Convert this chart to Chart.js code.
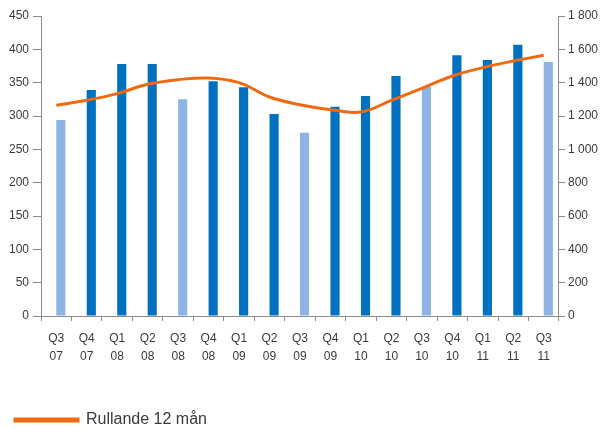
<!DOCTYPE html>
<html>
<head>
<meta charset="utf-8">
<script src="https://cdn.jsdelivr.net/npm/chart.js@4"></script>
<style>
  body { margin: 0; background: #fff; }
</style>
</head>
<body>
<canvas id="chart" width="601" height="428"></canvas>
<script>
const quarters = ["Q3 07", "Q4 07", "Q1 08", "Q2 08", "Q3 08", "Q4 08", "Q1 09", "Q2 09", "Q3 09",
  "Q4 09", "Q1 10", "Q2 10", "Q3 10", "Q4 10", "Q1 11", "Q2 11", "Q3 11"];
const quarterValues = [294, 339, 378, 378, 325, 352, 343, 303, 275, 314, 330, 360, 344, 391, 384, 407, 381];
const rolling12 = [1264, 1294, 1334, 1390, 1418, 1428, 1400, 1314, 1268, 1238, 1224, 1294, 1366, 1440, 1490, 1530, 1564];
const rollingLabel = "Rullande 12 mån";
const leftTicks = { min: 0, max: 450, step: 50 };
const rightTicks = { min: 0, max: 1800, step: 200 };

const darkBlue = "#0070c0";
const lightBlue = "#8db4e2";
const orange = "#f26a10";
const axisGrey = "#8c8c8c";
const textGrey = "#3a3a3a";

Chart.defaults.font.family = "'Liberation Sans', Arial, sans-serif";
Chart.defaults.font.size = 12;
Chart.defaults.color = textGrey;

function spaced(v) {
  return String(v).replace(/\B(?=(\d{3})+(?!\d))/g, " ");
}

// pull the legend a little closer to the bottom edge
const lowerLegend = {
  id: "lowerLegend",
  beforeInit(chart) {
    const fit = chart.legend.fit;
    chart.legend.fit = function () {
      fit.call(this);
      this.height -= 10;
    };
  }
};

const barColors = quarters.map(q => q.startsWith("Q3") ? lightBlue : darkBlue);

new Chart(document.getElementById("chart"), {
  type: "bar",
  data: {
    labels: quarters.map(q => q.split(" ")),
    datasets: [
      // empty slot so the real bar sits right of the category centre, as in the original
      { label: "", data: quarters.map(() => null), backgroundColor: "transparent", order: 1 },
      { label: "Kvartal", data: quarterValues, backgroundColor: barColors, order: 1 },
      {
        type: "line",
        label: rollingLabel,
        data: rolling12,
        yAxisID: "y1",
        borderColor: orange,
        backgroundColor: orange,
        borderWidth: 3,
        pointRadius: 0,
        tension: 0.4,
        order: 0
      }
    ]
  },
  plugins: [lowerLegend],
  options: {
    responsive: false,
    animation: false,
    categoryPercentage: 0.6,
    barPercentage: 1,
    layout: { padding: { left: 5, right: 0, top: 16, bottom: 0 } },
    plugins: {
      tooltip: { enabled: false },
      legend: {
        position: "bottom",
        align: "start",
        labels: {
          filter: item => item.text === rollingLabel,
          boxWidth: 63,
          boxHeight: 2,
          padding: 10,
          color: textGrey,
          font: { size: 16 }
        }
      }
    },
    scales: {
      x: {
        grid: { drawOnChartArea: false, offset: true, color: axisGrey, tickLength: 5 },
        border: { color: axisGrey },
        ticks: { maxRotation: 0, autoSkip: false, padding: 9, font: { size: 12, lineHeight: 1.5 } },
        afterFit: s => { s.height = 86; }
      },
      y: {
        position: "left",
        min: leftTicks.min,
        max: leftTicks.max,
        grid: { drawOnChartArea: false, color: axisGrey, tickLength: 8 },
        border: { color: axisGrey },
        ticks: { stepSize: leftTicks.step, padding: 4 }
      },
      y1: {
        position: "right",
        min: rightTicks.min,
        max: rightTicks.max,
        grid: { drawOnChartArea: false, color: axisGrey, tickLength: 6 },
        border: { color: axisGrey },
        ticks: { stepSize: rightTicks.step, padding: 3, callback: v => spaced(v) }
      }
    }
  }
});
</script>
</body>
</html>
